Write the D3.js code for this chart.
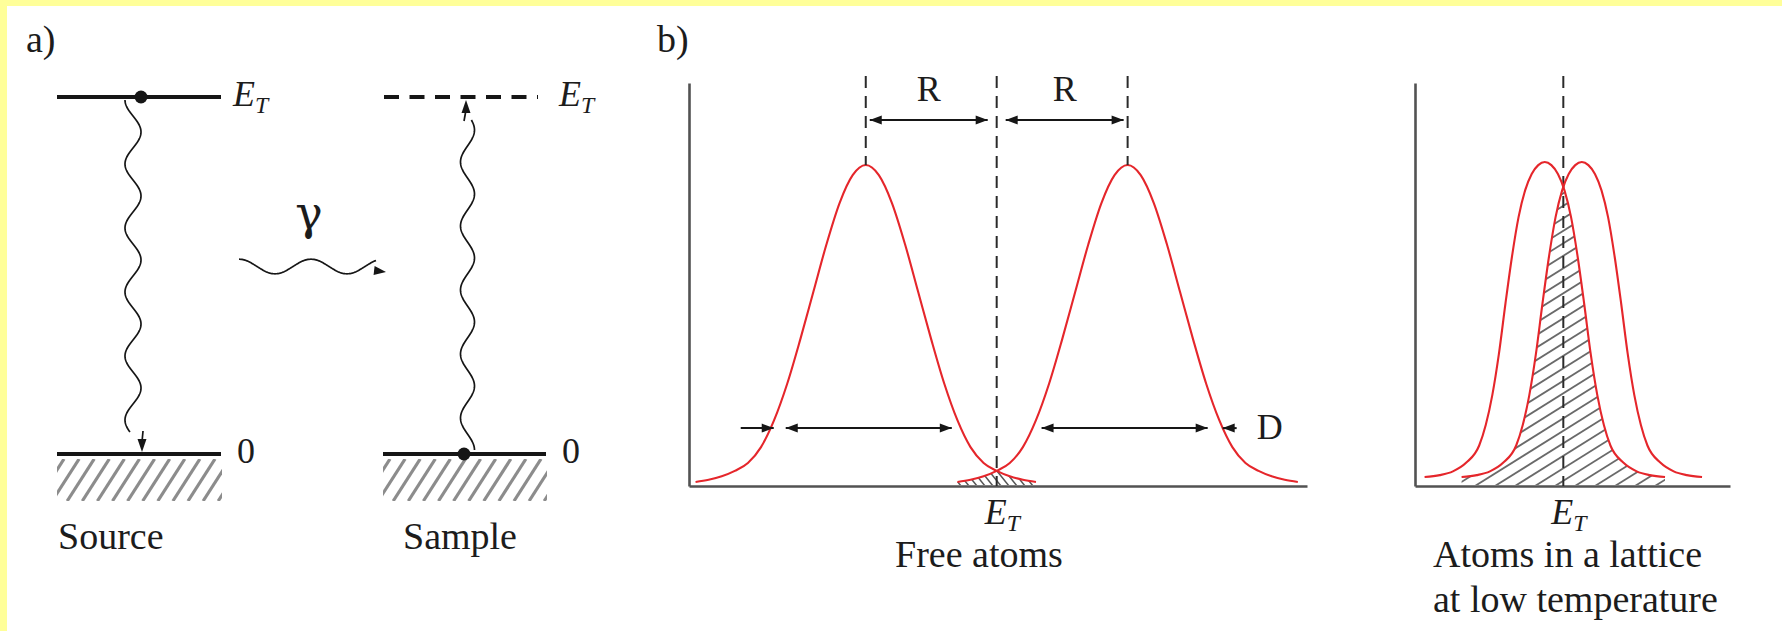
<!DOCTYPE html>
<html>
<head>
<meta charset="utf-8">
<script src="https://cdn.jsdelivr.net/npm/d3@7"></script>
<style>
  html, body { margin: 0; padding: 0; background: #fff; }
  svg { display: block; }
  text { font-family: "Liberation Serif", "Times New Roman", serif; fill: #1c1c1c; }
</style>
</head>
<body>
<svg id="fig" width="1782" height="631"></svg>
<script>
// ---------------- data ----------------
// Panel a: two-level nucleus (ground 0, excited E_T)
const levelEnergies = [0, 1];
const systems = ["Source", "Sample"];

// Panels b, c: energy measured from E_T in units of the recoil energy R.
// Half line profiles (offset from line centre, relative intensity).
const freeProfile = [
  [0, 1], [0.1, 0.968], [0.2, 0.88], [0.3, 0.75], [0.4, 0.6], [0.5, 0.45],
  [0.6, 0.31], [0.7, 0.195], [0.8, 0.11], [0.9, 0.06], [1.0, 0.035],
  [1.1, 0.018], [1.2, 0.007], [1.3, 0]
];
const latticeProfile = [
  [0, 1], [0.05, 0.99], [0.1, 0.962], [0.15, 0.91], [0.2, 0.825], [0.25, 0.70],
  [0.3, 0.55], [0.35, 0.39], [0.4, 0.26], [0.45, 0.165], [0.5, 0.1],
  [0.6, 0.045], [0.7, 0.018], [0.8, 0.006], [0.916, 0]
];
const freeCentres = [-1, 1];          // emission at E_T − R, absorption at E_T + R
const latticeCentres = [-0.141, 0.141];
const dopplerLevel = 0.17;            // height at which the Doppler width D is marked
const dopplerHalf = 0.68;             // half width of a free-atom line at that height

// ---------------- helpers ----------------
const svg = d3.select("#fig");
const ink = "#161616", axisGrey = "#525252", red = "#e5262b";

svg.append("rect").attr("width", 1782).attr("height", 631).attr("fill", "#ffff99");
svg.append("rect").attr("x", 7).attr("y", 6).attr("width", 1775).attr("height", 625).attr("fill", "#fff");

function mirror(half) {
  return half.slice(1).reverse().map(([o, v]) => [-o, v]).concat(half);
}

function head(g, tipX, tipY, angle, len = 12, hw = 4.5) {
  const c = Math.cos(angle), s = Math.sin(angle);
  const bx = tipX - c * len, by = tipY - s * len;
  g.append("path")
    .attr("d", `M${tipX},${tipY}L${bx - s * hw},${by + c * hw}L${bx + s * hw},${by - c * hw}Z`)
    .attr("fill", ink);
}

function arrow(g, x1, y1, x2, y2, atStart, atEnd) {
  const a = Math.atan2(y2 - y1, x2 - x1);
  g.append("line").attr("x1", x1).attr("y1", y1).attr("x2", x2).attr("y2", y2)
    .attr("stroke", ink).attr("stroke-width", 2);
  if (atEnd) head(g, x2, y2, a);
  if (atStart) head(g, x1, y1, a + Math.PI);
}

function energyLabel(g, x, y, size, anchor = "start") {
  const t = g.append("text").attr("x", x).attr("y", y).attr("text-anchor", anchor)
    .attr("font-size", size).attr("font-style", "italic");
  t.append("tspan").text("E");
  t.append("tspan").attr("font-size", size * 0.66).attr("dy", size * 0.2).text("T");
  return t;
}

// photon squiggle between two points (sinusoid along the segment)
function squiggle(g, x1, y1, x2, y2, wavelength, amp, phase, bias) {
  const L = Math.hypot(x2 - x1, y2 - y1), ux = (x2 - x1) / L, uy = (y2 - y1) / L;
  const nx = -uy, ny = ux;
  const pts = d3.range(0, L + 0.5, 1).map(s => {
    const off = bias + amp * Math.cos(2 * Math.PI * s / wavelength + phase);
    return [x1 + ux * s + nx * off, y1 + uy * s + ny * off];
  });
  g.append("path").attr("d", d3.line()(pts)).attr("fill", "none")
    .attr("stroke", ink).attr("stroke-width", 1.7);
  return pts;
}

// ---------------- panel a ----------------
const gA = svg.append("g");
const yA = d3.scaleLinear().domain([0, 1]).range([454, 97]);
const levelSpan = { Source: [57, 221], Sample: [383, 546] };

gA.append("text").attr("x", 26).attr("y", 52).attr("font-size", 38).text("a)");

// hatched ground under each ground level
const defs = svg.append("defs");
systems.forEach((sys, i) => {
  const [x0, x1] = levelSpan[sys];
  const y0 = yA(0);
  defs.append("clipPath").attr("id", "ground" + i)
    .append("rect").attr("x", x0).attr("y", y0 + 5).attr("width", x1 - x0 + 1).attr("height", 42);
  const hg = gA.append("g").attr("clip-path", `url(#ground${i})`);
  d3.range(x0 - 20, x1 + 30, 15.1).forEach(x => {
    hg.append("line").attr("x1", x).attr("y1", y0 + 47).attr("x2", x + 27).attr("y2", y0 + 5)
      .attr("stroke", "#8c8c8c").attr("stroke-width", 3.2);
  });
});

// levels
systems.forEach(sys => {
  const [x0, x1] = levelSpan[sys];
  gA.append("line").attr("x1", x0).attr("x2", x1).attr("y1", yA(0)).attr("y2", yA(0))
    .attr("stroke", ink).attr("stroke-width", 4);
  gA.append("line").attr("x1", x0 + (sys === "Sample" ? 1 : 0)).attr("x2", sys === "Sample" ? 538 : x1)
    .attr("y1", yA(1)).attr("y2", yA(1))
    .attr("stroke", ink).attr("stroke-width", 4)
    .attr("stroke-dasharray", sys === "Sample" ? "15,10.5" : null);
  gA.append("text").attr("x", x1 + 16).attr("y", yA(0) + 9).attr("font-size", 36).text("0");
  energyLabel(gA, sys === "Sample" ? 559 : 233, yA(1) + 9, 36);
});

// emission in the source
const srcX = 141;
gA.append("circle").attr("cx", srcX).attr("cy", yA(1)).attr("r", 6.5).attr("fill", ink);
squiggle(gA, srcX, yA(1) + 3, srcX, 432, 64, 8, 0, 8);
gA.append("line").attr("x1", srcX + 2).attr("y1", 431).attr("x2", srcX + 1).attr("y2", 442)
  .attr("stroke", ink).attr("stroke-width", 1.7);
head(gA, srcX + 1, yA(0) - 2, Math.PI / 2, 13, 4.5);

// absorption in the sample
const smpX = 464;
gA.append("circle").attr("cx", smpX).attr("cy", yA(0)).attr("r", 6.5).attr("fill", ink);
squiggle(gA, smpX, yA(0) - 4, smpX, 120, 64, 7, 0, 3.5);
gA.append("line").attr("x1", smpX).attr("y1", 121).attr("x2", smpX + 2).attr("y2", 110)
  .attr("stroke", ink).attr("stroke-width", 1.7);
head(gA, smpX + 2, yA(1) + 3, -Math.PI / 2, 13, 4.5);

// travelling gamma quantum
gA.append("text").attr("x", 309).attr("y", 229).attr("text-anchor", "middle")
  .style("font-family", "'DejaVu Serif', serif").attr("font-size", 46).text("γ");
squiggle(gA, 239, 266.5, 376, 266.5, 72, -7.3, 0, 0);
head(gA, 386, 272, 0.12, 12, 4.5);

gA.append("text").attr("x", 58).attr("y", 549).attr("font-size", 38).text(systems[0]);
gA.append("text").attr("x", 403).attr("y", 549).attr("font-size", 38).text(systems[1]);

// ---------------- panels b and c ----------------
function spectrumPanel(cfg) {
  const g = svg.append("g");
  const { x, y, axisY, profile, centres, id, hatchSpec } = cfg;
  const full = mirror(profile);

  // axes
  g.append("g").attr("transform", `translate(0,${axisY})`)
    .call(d3.axisBottom(x).tickValues([]).tickSizeOuter(0))
    .call(s => s.select(".domain").attr("stroke", axisGrey).attr("stroke-width", 2.6));
  const yAxisScale = d3.scaleLinear().domain([0, 1]).range([axisY, 83]);
  g.append("g").attr("transform", `translate(${x.range()[0]},0)`)
    .call(d3.axisLeft(yAxisScale).tickValues([]).tickSizeOuter(0))
    .call(s => s.select(".domain").attr("stroke", axisGrey).attr("stroke-width", 2.6));

  // overlap (resonant) region, hatched: area under both lines
  const area = c => d3.area().curve(d3.curveMonotoneX)
    .x(d => x(c + d[0])).y0(axisY - 1).y1(d => y(d[1]))(full);
  centres.forEach((c, i) => {
    defs.append("clipPath").attr("id", `${id}clip${i}`).append("path").attr("d", area(c));
  });
  const hg = g.append("g").attr("clip-path", `url(#${id}clip0)`)
    .append("g").attr("clip-path", `url(#${id}clip1)`);
  const [hx0, hx1] = x.range();
  const top = y(1) - 5;
  d3.range(hx0 - 600, hx1 + 600, hatchSpec.step).forEach(px => {
    hg.append("line")
      .attr("x1", px).attr("y1", axisY)
      .attr("x2", px + hatchSpec.dx * (axisY - top)).attr("y2", top)
      .attr("stroke", hatchSpec.color).attr("stroke-width", hatchSpec.width);
  });

  // E_T guide
  g.append("line").attr("x1", x(0)).attr("x2", x(0)).attr("y1", 76).attr("y2", axisY)
    .attr("stroke", "#2a2a2a").attr("stroke-width", 2).attr("stroke-dasharray", "12,8");

  // line profiles
  const line = d3.line().curve(d3.curveMonotoneX);
  centres.forEach(c => {
    g.append("path").attr("d", line(full.map(d => [x(c + d[0]), y(d[1])])))
      .attr("fill", "none").attr("stroke", red).attr("stroke-width", 2.1);
  });
  energyLabel(g, x(0) - 12, 524, 36);
  return g;
}

// panel b: free atoms
const xB = d3.scaleLinear().domain([-2.35, 2.37]).range([689, 1307]);
const yB = d3.scaleLinear().domain([0, 1]).range([482, 165]);
const gB = spectrumPanel({
  x: xB, y: yB, axisY: 486, profile: freeProfile, centres: freeCentres, id: "b",
  hatchSpec: { step: 8, dx: -0.8, color: "#555", width: 1.5 }
});
svg.append("text").attr("x", 657).attr("y", 52).attr("font-size", 38).text("b)");

// recoil shifts R
freeCentres.forEach(c => {
  gB.append("line").attr("x1", xB(c)).attr("x2", xB(c)).attr("y1", 76).attr("y2", yB(1))
    .attr("stroke", "#2a2a2a").attr("stroke-width", 2).attr("stroke-dasharray", "12,8");
  const a = Math.min(xB(c), xB(0)), b = Math.max(xB(c), xB(0));
  const l = c < 0 ? a + 4 : a + 9, r = c < 0 ? b - 9 : b - 4;
  arrow(gB, l, 120, r, 120, true, true);
  gB.append("text").attr("x", (l + r) / 2).attr("y", 101).attr("text-anchor", "middle")
    .attr("font-size", 36).text("R");
});

// Doppler widths D
const yD = yB(dopplerLevel);
arrow(gB, xB(-1 - dopplerHalf) + 9, yD, xB(-1 + dopplerHalf) - 3, yD, true, true);
arrow(gB, xB(-1 - dopplerHalf) - 36, yD, xB(-1 - dopplerHalf) - 3, yD, false, true);
arrow(gB, xB(1 - dopplerHalf) + 3, yD, xB(1 + dopplerHalf) - 9, yD, true, true);
arrow(gB, xB(1 + dopplerHalf) + 20, yD, xB(1 + dopplerHalf) + 6, yD, false, true);
gB.append("text").attr("x", xB(1 + dopplerHalf) + 40).attr("y", yD + 11).attr("font-size", 36).text("D");

gB.append("text").attr("x", 895).attr("y", 567).attr("font-size", 38).text("Free atoms");

// panel c: atoms bound in a lattice
const xC = d3.scaleLinear().domain([-1.13, 1.27]).range([1415, 1730]);
const yC = d3.scaleLinear().domain([0, 1]).range([477, 162]);
const gC = spectrumPanel({
  x: xC, y: yC, axisY: 486, profile: latticeProfile, centres: latticeCentres, id: "c",
  hatchSpec: { step: 20, dx: 1.6, color: "#6a6a6a", width: 1.8 }
});
gC.append("text").attr("x", 1433).attr("y", 567).attr("font-size", 38).text("Atoms in a lattice");
gC.append("text").attr("x", 1433).attr("y", 612).attr("font-size", 38).text("at low temperature");
</script>
</body>
</html>
